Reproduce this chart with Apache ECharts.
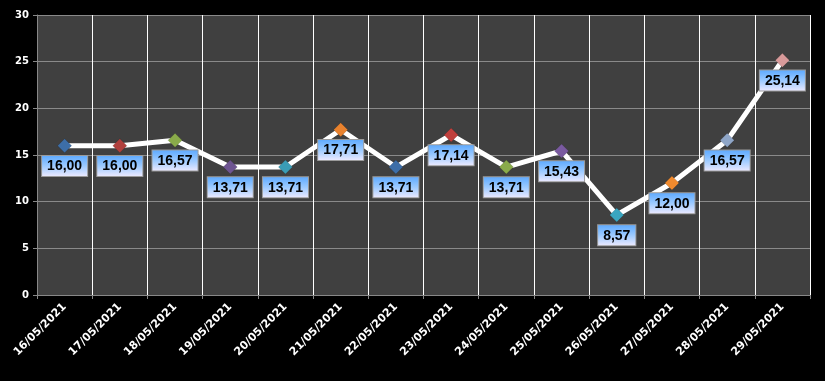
<!DOCTYPE html>
<html><head><meta charset="utf-8">
<script src="https://cdn.jsdelivr.net/npm/echarts@6/dist/echarts.min.js"></script>
<style>html,body{margin:0;padding:0;background:#000;}#c{width:825px;height:381px;}</style>
</head><body><div id="c"></div>
<script>
const categories = ['16/05/2021','17/05/2021','18/05/2021','19/05/2021','20/05/2021','21/05/2021','22/05/2021','23/05/2021','24/05/2021','25/05/2021','26/05/2021','27/05/2021','28/05/2021','29/05/2021'];
const values = [16.00,16.00,16.57,13.71,13.71,17.71,13.71,17.14,13.71,15.43,8.57,12.00,16.57,25.14];
const markerColors = ['#3d6ea8','#b0403d','#8aab4a','#6e5591','#3a9cb6','#e9822e','#3d6ea8','#c0403d','#8aab4a','#7a5aa0','#3aa6c0','#f08a2e','#8fa6c8','#d89a9a'];
const yTicks = {min:0,max:30,interval:5};

const chart = echarts.init(document.getElementById('c'));
chart.setOption({
  backgroundColor:'#000',
  animation:false,
  grid:{left:37,right:15,top:15,bottom:86,show:true,backgroundColor:'#404040',borderWidth:0},
  xAxis:{type:'category',data:categories,boundaryGap:true,
    axisLine:{lineStyle:{color:'#888',width:1}},
    axisTick:{show:true,alignWithLabel:false,length:4,lineStyle:{color:'#888'}},
    splitLine:{show:true,lineStyle:{color:'#fff',width:1}},
    axisLabel:{rotate:45,color:'#fff',fontWeight:'bold',fontSize:11,fontFamily:'DejaVu Sans',margin:10,interval:0}},
  yAxis:{type:'value',min:yTicks.min,max:yTicks.max,interval:yTicks.interval,
    axisLine:{show:true,lineStyle:{color:'#888'}},
    axisTick:{show:true,length:4,lineStyle:{color:'#888'}},
    splitLine:{lineStyle:{color:'#8a8a8a',width:1}},
    axisLabel:{color:'#fff',fontWeight:'bold',fontSize:10,fontFamily:'DejaVu Sans',margin:8}},
  series:[{type:'line',
    data:values.map((v,i)=>({value:v,itemStyle:{color:markerColors[i]}})),
    symbol:'diamond',symbolSize:14,
    lineStyle:{color:'#fff',width:5},
    itemStyle:{borderColor:'rgba(0,0,0,0.25)',borderWidth:0.5},
    z:3,
    label:{show:true,position:'bottom',distance:3,
      formatter:p=>p.value.toFixed(2).replace('.',','),
      color:'#000',fontWeight:'bold',fontSize:14,fontFamily:'Liberation Sans',
      backgroundColor:{type:'linear',x:0,y:0,x2:0,y2:1,colorStops:[{offset:0,color:'#5aa8ff'},{offset:0.5,color:'#9ccaff'},{offset:1,color:'#f0ebff'}]},
      borderColor:'#9a9a9a',borderWidth:1,padding:[3,5,2,5],lineHeight:15}
  }]
});
</script></body></html>
